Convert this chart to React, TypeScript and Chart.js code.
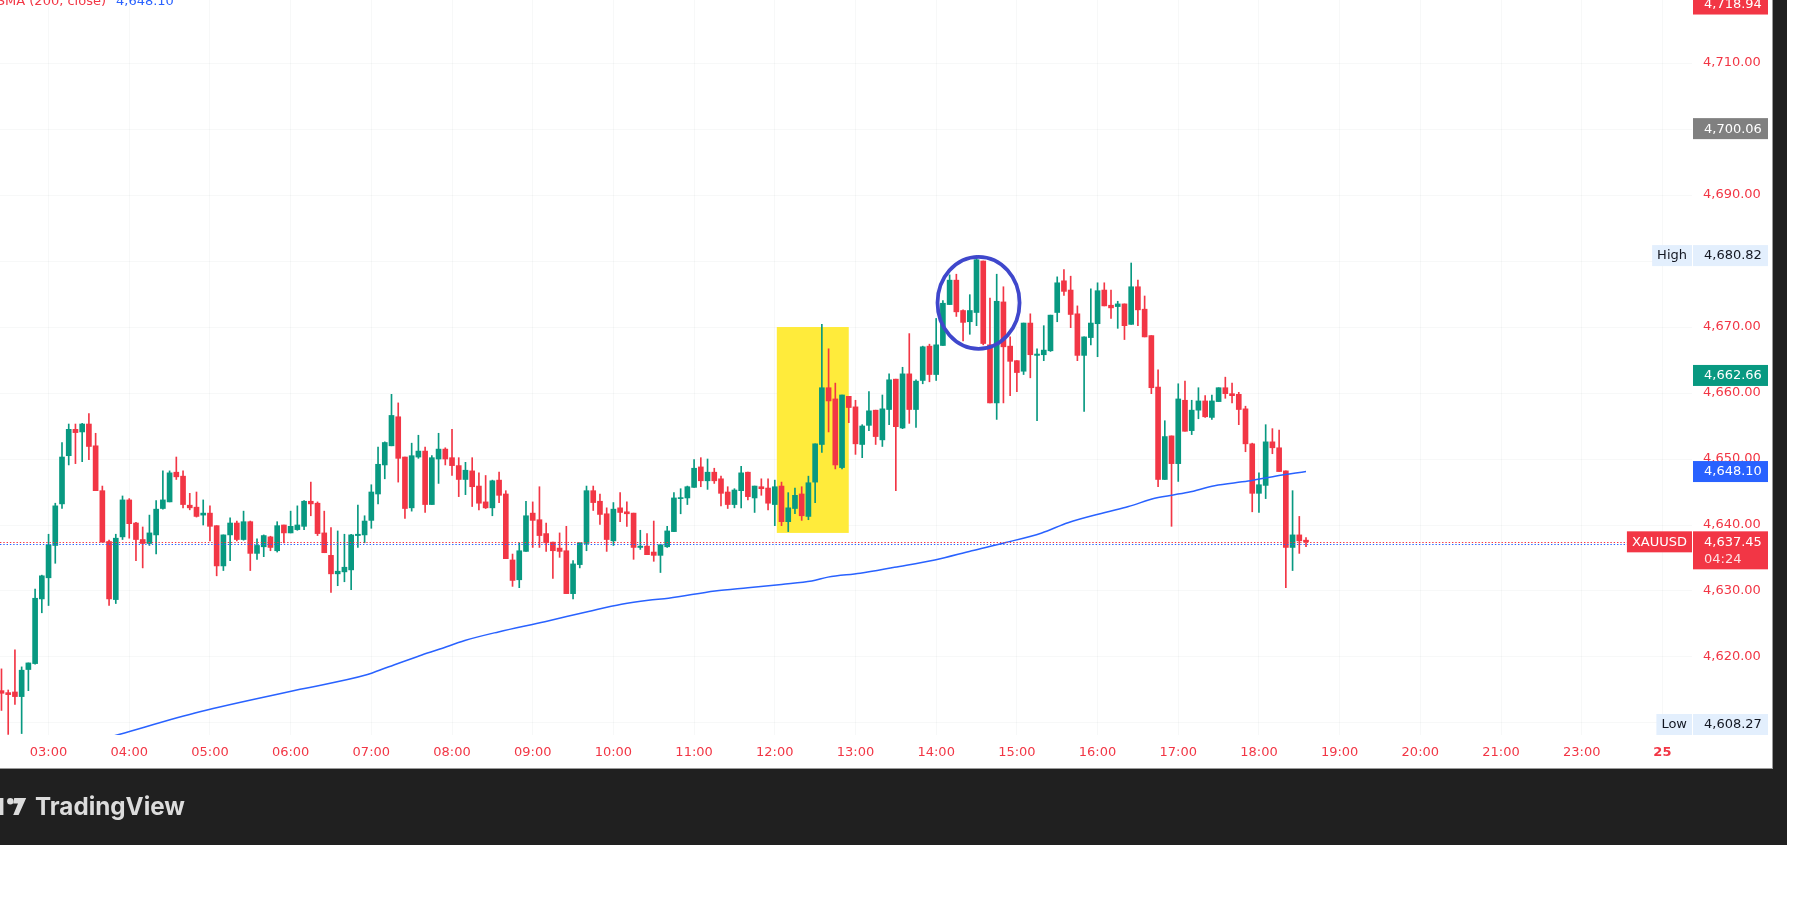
import React, { useEffect, useRef } from "react";
import { Chart, registerables } from "chart.js";

Chart.register(...registerables);

// ---------------- DATA ----------------
const symbol = "XAUUSD";
const firstCandleTime = "02:25"; // 5-minute candles

const opens = [
  4614.9, 4614.6, 4614.7, 4614.0, 4618.1, 4619.0, 4628.8, 4632.0, 4636.9, 4643.2,
  4650.5, 4654.5, 4654.1, 4655.3, 4652.0, 4645.2, 4637.5, 4628.7, 4638.2, 4643.8,
  4640.3, 4637.8, 4637.2, 4638.5, 4642.5, 4643.5, 4648.0, 4647.4, 4643.0, 4642.7,
  4641.5, 4641.8, 4639.9, 4633.8, 4638.5, 4640.3, 4637.8, 4640.5, 4635.7, 4636.7,
  4638.2, 4636.1, 4640.0, 4638.8, 4639.3, 4639.8, 4643.6, 4643.3, 4638.8, 4635.4,
  4632.6, 4632.9, 4633.2, 4638.4, 4638.5, 4640.7, 4644.7, 4649.1, 4652.0, 4656.4,
  4650.3, 4642.6, 4650.3, 4651.2, 4643.1, 4650.0, 4651.5, 4650.2, 4649.0, 4646.9,
  4648.2, 4645.9, 4643.5, 4642.6, 4646.8, 4644.7, 4634.7, 4631.7, 4636.0, 4641.8,
  4640.8, 4638.7, 4637.4, 4636.5, 4636.1, 4629.6, 4634.0, 4637.2, 4645.2, 4643.6,
  4641.7, 4637.6, 4642.6, 4642.0, 4641.8, 4636.6, 4636.8, 4635.9, 4635.4, 4636.7,
  4639.0, 4644.0, 4644.1, 4645.7, 4648.8, 4646.7, 4648.0, 4647.0, 4645.0, 4643.1,
  4645.2, 4648.0, 4644.1, 4645.8, 4645.6, 4643.1, 4645.9, 4640.5, 4642.5, 4644.7,
  4641.3, 4646.5, 4652.2, 4660.8, 4659.1, 4648.7, 4659.5, 4657.9, 4652.2, 4655.1,
  4657.4, 4652.9, 4657.5, 4662.1, 4654.7, 4662.9, 4657.5, 4661.9, 4667.1, 4662.8,
  4667.2, 4673.4, 4677.1, 4672.5, 4670.8, 4672.2, 4680.0, 4667.3, 4658.5, 4673.8,
  4667.1, 4664.9, 4663.3, 4670.6, 4665.7, 4665.8, 4666.4, 4672.2, 4677.0, 4675.6,
  4672.0, 4665.7, 4668.4, 4670.5, 4675.6, 4673.3, 4673.1, 4673.5, 4670.4, 4676.1,
  4672.7, 4668.7, 4660.9, 4646.9, 4653.5, 4649.3, 4658.9, 4654.3, 4657.4, 4658.8,
  4656.3, 4658.7, 4660.8, 4659.9, 4659.8, 4657.6, 4652.3, 4644.8, 4646.0, 4652.6,
  4651.7, 4648.2, 4636.6, 4638.5, 4637.7,
];

const highs = [
  4618.2, 4615.0, 4621.1, 4618.5, 4619.1, 4630.3, 4632.4, 4638.6, 4643.3, 4652.5,
  4655.3, 4655.3, 4655.4, 4656.9, 4653.9, 4645.9, 4637.7, 4638.6, 4644.4, 4644.0,
  4640.4, 4639.7, 4641.5, 4643.7, 4648.2, 4648.2, 4650.3, 4648.2, 4644.8, 4645.0,
  4643.8, 4642.9, 4639.9, 4638.5, 4641.1, 4640.6, 4642.1, 4640.6, 4637.9, 4638.5,
  4638.3, 4640.5, 4640.0, 4642.1, 4642.9, 4643.7, 4646.5, 4643.5, 4642.1, 4639.6,
  4639.1, 4638.6, 4638.6, 4643.0, 4641.4, 4646.1, 4651.8, 4652.6, 4659.8, 4658.5,
  4650.3, 4652.4, 4653.6, 4651.8, 4650.5, 4653.9, 4651.7, 4654.5, 4650.2, 4649.5,
  4650.2, 4647.9, 4647.5, 4646.8, 4648.0, 4645.2, 4635.6, 4637.3, 4643.6, 4643.5,
  4645.8, 4640.3, 4637.4, 4638.8, 4639.8, 4634.6, 4637.3, 4645.9, 4645.9, 4644.7,
  4642.6, 4643.4, 4644.9, 4643.5, 4641.8, 4639.2, 4638.7, 4640.6, 4637.1, 4639.8,
  4644.9, 4645.5, 4645.9, 4649.9, 4650.2, 4650.0, 4648.6, 4647.4, 4645.8, 4645.5,
  4648.9, 4648.0, 4645.9, 4647.0, 4647.0, 4646.8, 4646.5, 4644.9, 4645.6, 4645.8,
  4647.4, 4652.3, 4670.4, 4666.7, 4661.5, 4659.7, 4659.5, 4658.9, 4655.2, 4660.2,
  4657.4, 4659.7, 4662.9, 4662.1, 4663.9, 4669.0, 4662.0, 4667.1, 4667.4, 4671.3,
  4674.0, 4677.9, 4678.0, 4672.6, 4674.9, 4680.82, 4680.0, 4674.4, 4678.0, 4676.1,
  4668.5, 4664.9, 4670.6, 4672.0, 4666.7, 4670.2, 4671.8, 4677.6, 4678.7, 4677.7,
  4673.2, 4668.5, 4675.8, 4676.7, 4676.7, 4675.6, 4673.9, 4673.5, 4679.7, 4677.1,
  4674.7, 4668.7, 4663.5, 4655.8, 4653.5, 4661.4, 4661.8, 4658.9, 4660.8, 4659.6,
  4659.7, 4660.8, 4662.4, 4661.5, 4660.1, 4658.0, 4652.4, 4647.9, 4655.2, 4654.6,
  4654.4, 4648.2, 4645.2, 4641.3, 4638.1,
];

const lows = [
  4611.9, 4608.27, 4612.8, 4608.4, 4614.9, 4618.9, 4626.7, 4627.8, 4634.2, 4642.5,
  4649.1, 4649.3, 4649.6, 4649.9, 4645.2, 4637.4, 4627.8, 4628.1, 4637.8, 4638.0,
  4634.6, 4633.5, 4636.9, 4635.6, 4642.4, 4643.5, 4646.9, 4642.6, 4642.3, 4641.2,
  4640.0, 4637.6, 4632.3, 4633.1, 4634.6, 4637.6, 4637.7, 4633.1, 4634.8, 4635.2,
  4636.1, 4635.9, 4637.3, 4638.8, 4639.2, 4639.3, 4641.4, 4638.4, 4635.8, 4629.8,
  4630.8, 4631.4, 4630.2, 4636.6, 4637.3, 4639.5, 4643.2, 4647.0, 4652.0, 4646.5,
  4641.0, 4642.1, 4650.1, 4641.9, 4643.1, 4646.3, 4649.1, 4647.5, 4644.3, 4644.6,
  4642.8, 4642.3, 4642.5, 4641.4, 4643.4, 4634.9, 4630.7, 4630.5, 4636.0, 4636.6,
  4636.6, 4636.0, 4631.9, 4635.1, 4629.6, 4628.8, 4633.5, 4636.1, 4642.2, 4640.1,
  4636.0, 4636.9, 4640.5, 4639.8, 4634.8, 4636.3, 4635.5, 4634.5, 4632.8, 4636.6,
  4639.0, 4641.7, 4643.1, 4645.7, 4645.8, 4645.4, 4646.3, 4642.9, 4642.5, 4642.6,
  4642.6, 4643.8, 4641.9, 4644.5, 4642.3, 4639.9, 4639.9, 4639.0, 4641.7, 4640.7,
  4640.8, 4643.4, 4651.0, 4654.1, 4648.5, 4648.5, 4655.5, 4650.7, 4650.2, 4654.3,
  4652.2, 4651.9, 4655.2, 4645.2, 4654.6, 4655.4, 4654.8, 4661.4, 4661.7, 4661.9,
  4667.2, 4673.4, 4671.6, 4667.9, 4668.9, 4670.2, 4667.3, 4658.5, 4656.0, 4658.5,
  4659.6, 4660.2, 4662.8, 4662.3, 4655.8, 4664.9, 4666.3, 4670.8, 4674.8, 4669.9,
  4664.9, 4657.2, 4667.3, 4665.5, 4673.2, 4671.3, 4669.8, 4668.1, 4670.4, 4670.2,
  4668.5, 4659.9, 4645.8, 4646.9, 4639.8, 4646.6, 4654.2, 4653.7, 4656.1, 4656.3,
  4656.0, 4658.7, 4659.2, 4658.5, 4655.2, 4651.1, 4642.0, 4641.9, 4644.0, 4650.8,
  4648.1, 4630.5, 4633.1, 4635.7, 4636.7,
];

const closes = [
  4614.5, 4614.3, 4614.0, 4618.0, 4619.1, 4628.9, 4632.3, 4637.0, 4642.9, 4650.3,
  4654.5, 4654.0, 4655.3, 4651.9, 4645.2, 4637.4, 4628.8, 4638.0, 4643.8, 4640.2,
  4637.8, 4637.2, 4638.8, 4642.4, 4643.8, 4647.9, 4647.3, 4643.1, 4642.6, 4641.3,
  4641.8, 4639.8, 4633.8, 4638.5, 4640.3, 4637.8, 4640.5, 4635.7, 4636.9, 4638.4,
  4636.6, 4639.9, 4638.8, 4639.8, 4640.0, 4643.6, 4643.2, 4638.7, 4635.8, 4632.6,
  4633.0, 4633.6, 4638.5, 4638.6, 4640.6, 4645.0, 4649.2, 4652.5, 4656.6, 4650.1,
  4642.5, 4650.5, 4651.2, 4643.1, 4650.2, 4651.5, 4650.0, 4649.0, 4646.9, 4648.3,
  4645.8, 4643.3, 4642.6, 4646.7, 4644.5, 4634.9, 4631.6, 4636.1, 4641.4, 4640.7,
  4638.4, 4637.3, 4636.1, 4636.0, 4629.6, 4634.1, 4637.3, 4645.2, 4643.4, 4641.6,
  4637.8, 4642.4, 4641.9, 4641.7, 4636.6, 4636.8, 4635.5, 4635.4, 4637.0, 4639.1,
  4644.1, 4644.1, 4645.8, 4648.6, 4646.7, 4648.0, 4646.7, 4644.8, 4643.1, 4645.3,
  4647.9, 4644.3, 4645.9, 4645.5, 4643.3, 4645.8, 4640.5, 4642.6, 4644.5, 4641.4,
  4646.4, 4652.3, 4660.8, 4658.8, 4649.1, 4659.7, 4657.8, 4652.3, 4655.0, 4657.3,
  4653.4, 4657.6, 4662.0, 4654.9, 4662.9, 4657.5, 4661.8, 4667.0, 4662.8, 4667.3,
  4673.6, 4677.1, 4672.3, 4670.7, 4672.5, 4680.2, 4667.5, 4658.5, 4673.9, 4667.0,
  4664.8, 4663.1, 4670.6, 4665.8, 4665.9, 4666.5, 4671.8, 4676.7, 4675.4, 4671.9,
  4665.7, 4668.5, 4670.6, 4675.5, 4673.2, 4672.9, 4673.5, 4670.2, 4676.1, 4672.6,
  4668.5, 4660.8, 4646.9, 4653.4, 4649.3, 4659.1, 4654.2, 4657.4, 4658.8, 4656.4,
  4658.8, 4660.8, 4659.9, 4659.6, 4657.5, 4652.3, 4644.8, 4646.1, 4652.6, 4651.7,
  4648.1, 4636.6, 4638.5, 4637.6, 4637.45,
];

// SMA(200) (candle index -> value)
const smaIndex = [
  15, 17.6, 29.5, 44.4, 54.3, 57.3, 62.2, 65.2, 68.9, 73.9, 80.8, 87.3, 92.2, 96.2,
  99.2, 106.1, 111.0, 116.0, 120.5, 122.9, 127.7, 132.8, 138.8, 144.3, 149.2, 154.7,
  158.6, 164.1, 167.6, 171.5, 176.5, 180.4, 185.4, 189.4, 194,
];
const smaValues = [
  4607.55, 4608.3, 4611.7, 4615.1, 4617.3, 4618.4, 4620.2, 4621.2, 4622.5, 4623.8,
  4625.35, 4626.9, 4628.0, 4628.6, 4628.9, 4630.0, 4630.5, 4631.0, 4631.5, 4632.1,
  4632.7, 4633.6, 4634.7, 4636.1, 4637.3, 4638.8, 4640.35, 4641.9, 4642.8, 4644.05,
  4644.95, 4645.95, 4646.65, 4647.4, 4648.1,
];
const smaTitle = "SMA (200, close)";
const smaLast = 4648.1;

// time axis (one label per hourly slot; 22:00 session break skipped)
const timeLabels = [
  "03:00", "04:00", "05:00", "06:00", "07:00", "08:00", "09:00", "10:00", "11:00",
  "12:00", "13:00", "14:00", "15:00", "16:00", "17:00", "18:00", "19:00", "20:00",
  "21:00", "23:00", "25",
];
const firstLabelCandle = 7; // 03:00 is the 8th 5-minute candle after 02:25
const candlesPerHour = 12;

const priceTicks = [4610, 4620, 4630, 4640, 4650, 4660, 4670, 4680, 4690, 4700, 4710];

const lastPrice = 4637.45;
const countdown = "04:24";
const secondaryPrice = 4637.1;
const sessionHigh = 4680.82;
const sessionLow = 4608.27;
const redMarker = 4718.94;
const greyMarker = 4700.06;
const greenMarker = 4662.66;

// annotations (data coordinates: candle index / price)
const boxFrom = 115.3;
const boxTo = 126.0;
const boxTop = 4670.0;
const boxBottom = 4638.8;
const circleCenterIndex = 145.3;
const circleCenterPrice = 4673.67;
const circleRadiusIndex = 6.1;
const circleRadiusPrice = 6.97;

// view range
const xMin = -0.22;
const xMax = 251.4;
const yMin = 4608.18;
const yMax = 4719.55;

// ---------------- STYLE ----------------
const GREEN = "#089981";
const RED = "#f23645";
const AXIS_TEXT = "#f23645";
const GRID = "rgba(42,46,57,0.035)";
const FONT = "DejaVu Sans";

const fmt = (v: number) =>
  v.toLocaleString("en-US", { minimumFractionDigits: 2, maximumFractionDigits: 2 });

const overlayPlugin = {
  id: "tvOverlay",
  beforeDatasetsDraw(chart: any) {
    const { ctx, scales } = chart;
    const x = scales.x, y = scales.y;
    const l = x.getPixelForValue(boxFrom);
    const r = x.getPixelForValue(boxTo);
    const t = y.getPixelForValue(boxTop);
    const b = y.getPixelForValue(boxBottom);
    ctx.save();
    ctx.fillStyle = "#ffeb3b";
    ctx.fillRect(l, t, r - l, b - t);
    ctx.restore();
  },
  afterDatasetsDraw(chart: any) {
    const { ctx, scales, chartArea } = chart;
    const x = scales.x, y = scales.y;
    ctx.save();
    const drawDotted = (v: number, color: string) => {
      const py = Math.round(y.getPixelForValue(v)) + 0.5;
      ctx.beginPath();
      ctx.setLineDash([1.4, 1.9]);
      ctx.strokeStyle = color;
      ctx.lineWidth = 1;
      ctx.moveTo(chartArea.left, py);
      ctx.lineTo(chartArea.right, py);
      ctx.stroke();
    };
    drawDotted(lastPrice, RED);
    drawDotted(secondaryPrice, "#2962ff");
    ctx.setLineDash([]);
    const cx = x.getPixelForValue(circleCenterIndex);
    const cy = y.getPixelForValue(circleCenterPrice);
    const rx = Math.abs(x.getPixelForValue(circleCenterIndex + circleRadiusIndex) - cx);
    const ry = Math.abs(y.getPixelForValue(circleCenterPrice + circleRadiusPrice) - cy);
    ctx.beginPath();
    ctx.ellipse(cx, cy, rx, ry, 0, 0, Math.PI * 2);
    ctx.strokeStyle = "#3f47cc";
    ctx.lineWidth = 3.8;
    ctx.stroke();
    ctx.restore();
  },
  afterDraw(chart: any) {
    const { ctx, scales, chartArea } = chart;
    const y = scales.y;
    ctx.save();
    ctx.font = `13px "${FONT}"`;

    // legend title at top-left (partly cut)
    ctx.textBaseline = "alphabetic";
    ctx.textAlign = "right";
    ctx.fillStyle = RED;
    ctx.fillText(smaTitle, 106, 5);
    ctx.textAlign = "left";
    ctx.fillStyle = "#2962ff";
    ctx.fillText(fmt(smaLast), 116, 5);
    ctx.textBaseline = "middle";

    const bx = chartArea.right + 1;
    const bw = 75;
    const bh = 21;
    const tx = bx + 11;
    const box = (cy: number, bg: string, fg: string, text: string) => {
      ctx.fillStyle = bg;
      ctx.fillRect(bx, cy - bh / 2, bw, bh);
      ctx.fillStyle = fg;
      ctx.textAlign = "left";
      ctx.fillText(text, tx, cy + 0.5);
    };
    const tag = (cy: number, bg: string, fg: string, text: string) => {
      const w = ctx.measureText(text).width + 10;
      ctx.fillStyle = bg;
      ctx.fillRect(chartArea.right - w, cy - bh / 2, w, bh);
      ctx.fillStyle = fg;
      ctx.textAlign = "center";
      ctx.fillText(text, chartArea.right - w / 2, cy + 0.5);
    };

    box(y.getPixelForValue(redMarker), RED, "#ffffff", fmt(redMarker));
    box(y.getPixelForValue(greyMarker), "#808080", "#ffffff", fmt(greyMarker));
    const hy = y.getPixelForValue(sessionHigh);
    box(hy, "#e3effd", "#131722", fmt(sessionHigh));
    tag(hy, "#e3effd", "#131722", "High");
    box(y.getPixelForValue(greenMarker), GREEN, "#ffffff", fmt(greenMarker));
    box(y.getPixelForValue(smaLast), "#2962ff", "#ffffff", fmt(smaLast));
    const ly = y.getPixelForValue(lastPrice);
    ctx.fillStyle = RED;
    ctx.fillRect(bx, ly - bh / 2, bw, 38);
    ctx.fillStyle = "#ffffff";
    ctx.textAlign = "left";
    ctx.fillText(fmt(lastPrice), tx, ly + 0.5);
    ctx.fillStyle = "rgba(255,255,255,0.85)";
    ctx.fillText(countdown, tx, ly + 17.5);
    tag(ly, RED, "#ffffff", symbol);
    let lowY = y.getPixelForValue(sessionLow);
    lowY = Math.min(lowY, chartArea.bottom - bh / 2);
    box(lowY, "#e3effd", "#131722", fmt(sessionLow));
    tag(lowY, "#e3effd", "#131722", "Low");

    // frame: right strip and bottom band
    ctx.fillStyle = "#202020";
    ctx.fillRect(1773, 0, 14, 845);
    ctx.fillRect(0, 769, 1787, 76);
    ctx.fillStyle = "#9a9a9a";
    ctx.fillRect(0, 768, 1773, 1);
    ctx.fillRect(1772, 0, 1, 769);

    // TradingView logo
    ctx.fillStyle = "#dcdcdc";
    ctx.fillRect(0, 798, 3.4, 17);
    ctx.beginPath();
    ctx.arc(10.3, 801.2, 3.2, 0, Math.PI * 2);
    ctx.fill();
    ctx.beginPath();
    ctx.moveTo(14.2, 798);
    ctx.lineTo(26.2, 798);
    ctx.lineTo(18.6, 815);
    ctx.lineTo(13.2, 815);
    ctx.lineTo(18.0, 803.6);
    ctx.lineTo(13.2, 803.6);
    ctx.closePath();
    ctx.fill();
    let fs = 24;
    ctx.font = `bold ${fs}px Inter`;
    const w = ctx.measureText("TradingView").width;
    fs = (fs * 150) / w;
    ctx.font = `bold ${fs}px Inter`;
    ctx.textAlign = "left";
    ctx.textBaseline = "alphabetic";
    ctx.fillText("TradingView", 35, 815);
    ctx.restore();
  },
};

export default function App() {
  const ref = useRef<HTMLCanvasElement | null>(null);

  useEffect(() => {
    const canvas = ref.current;
    if (!canvas) return;
    document.body.style.margin = "0";
    const colorOf = (i: number) => (closes[i] >= opens[i] ? GREEN : RED);
    const wickData = highs.map((h, i) => ({ x: i, y: [lows[i], h] }));
    const bodyData = opens.map((o, i) => ({ x: i, y: [o, closes[i]] }));
    const smaData = smaIndex.map((xi, k) => ({ x: xi, y: smaValues[k] }));
    const labelIndex = timeLabels.map((_, k) => firstLabelCandle + k * candlesPerHour);

    const chart = new Chart(canvas, {
      type: "bar",
      data: {
        datasets: [
          {
            type: "line",
            label: smaTitle,
            data: smaData as any,
            borderColor: "#2962ff",
            borderWidth: 1.5,
            pointRadius: 0,
            cubicInterpolationMode: "monotone",
            order: 0,
          } as any,
          {
            label: "body",
            data: bodyData as any,
            backgroundColor: (c: any) => colorOf(c.dataIndex),
            barThickness: 5,
            grouped: false,
            minBarLength: 1,
            borderWidth: 0,
            order: 1,
          } as any,
          {
            label: "wick",
            data: wickData as any,
            backgroundColor: (c: any) => colorOf(c.dataIndex),
            barThickness: 1,
            grouped: false,
            borderWidth: 0,
            order: 2,
          } as any,
        ],
      },
      options: {
        animation: false,
        responsive: false,
        events: [],
        layout: { padding: 0 },
        plugins: { legend: { display: false }, tooltip: { enabled: false } },
        scales: {
          x: {
            type: "linear",
            min: xMin,
            max: xMax,
            offset: false,
            bounds: "data",
            grid: { color: GRID, drawTicks: false, offset: false },
            border: { display: false },
            ticks: {
              autoSkip: false,
              maxRotation: 0,
              padding: 10,
              color: AXIS_TEXT,
              font: (c: any) => ({
                family: FONT,
                size: 13,
                weight: c.index === timeLabels.length - 1 ? "bold" : "normal",
              }),
              callback: (_v: any, idx: number) => timeLabels[idx],
            },
            afterBuildTicks: (s: any) => {
              s.ticks = labelIndex.map((v) => ({ value: v }));
            },
            afterFit: (s: any) => {
              s.height = 185;
              s.paddingLeft = 0;
              s.paddingRight = 0;
            },
          } as any,
          y: {
            type: "linear",
            position: "right",
            min: yMin,
            max: yMax,
            bounds: "data",
            grid: { color: GRID, drawTicks: false },
            border: { display: false },
            ticks: {
              padding: 11,
              color: AXIS_TEXT,
              font: { family: FONT, size: 13 },
              callback: (v: any) => fmt(Number(v)),
            },
            afterBuildTicks: (s: any) => {
              s.ticks = priceTicks.map((v) => ({ value: v }));
            },
            afterFit: (s: any) => {
              s.width = 122;
              s.paddingTop = 0;
              s.paddingBottom = 0;
            },
          } as any,
        },
      },
      plugins: [overlayPlugin],
    });
    return () => chart.destroy();
  }, []);

  return (
    <div style={{ position: "fixed", left: 0, top: 0, width: 1814, height: 920, background: "#ffffff" }}>
      <canvas ref={ref} width={1814} height={920} style={{ display: "block", width: 1814, height: 920 }} />
    </div>
  );
}
